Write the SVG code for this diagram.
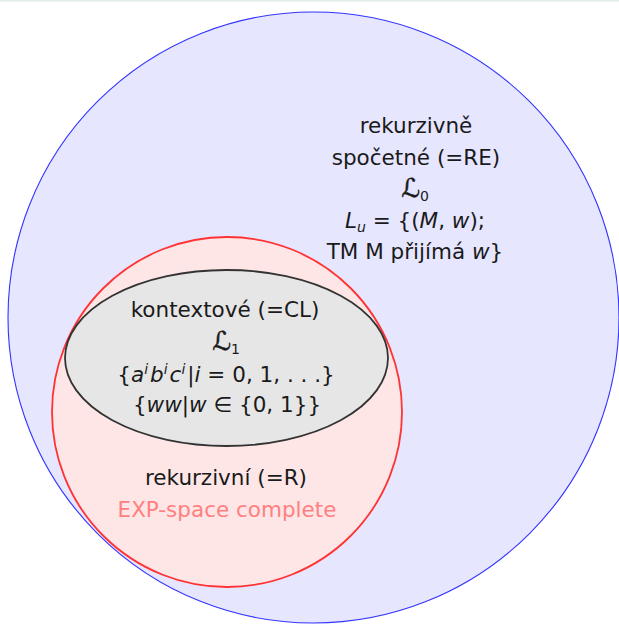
<svg xmlns="http://www.w3.org/2000/svg" width="619" height="626" viewBox="0 0 619 626">
<style>
.t{font-family:"DejaVu Sans","Liberation Sans",sans-serif;font-size:21.5px;fill:#1a1a1a;text-anchor:middle}
.m{font-style:italic}
.s{font-size:14px}
.cal{font-size:26px;stroke:#1a1a1a;stroke-width:0.5}
.exp{fill:#ff8080}
</style>
<rect x="0" y="0" width="619" height="626" fill="#ffffff"/>
<rect x="0" y="0" width="619" height="1.5" fill="#e2eaea"/>
<g id="re">
<circle cx="313.5" cy="317.5" r="305.5" fill="#e6e6ff" stroke="#3333ff" stroke-width="1.1"/>
<text class="t" x="416" y="133">rekurzivně</text>
<text class="t" x="416" y="165">spočetné (=RE)</text>
<text class="t" x="415" y="197"><tspan class="cal">ℒ</tspan><tspan class="s" dy="4">0</tspan></text>
<text class="t" x="415" y="228"><tspan class="m">L</tspan><tspan class="m s" dy="4">u</tspan><tspan dy="-4"> = {(</tspan><tspan class="m">M</tspan>, <tspan class="m">w</tspan>);</text>
<text class="t" x="415" y="259">TM M přijímá <tspan class="m">w</tspan>}</text>
</g>
<g id="r">
<circle cx="227" cy="412" r="175" fill="#ffe6e6" stroke="#ff3333" stroke-width="1.8"/>
<text class="t" x="226" y="485">rekurzivní (=R)</text>
<text class="t exp" x="227" y="517">EXP-space complete</text>
</g>
<g id="cl">
<ellipse cx="226.5" cy="358" rx="161.5" ry="88" fill="#e6e6e6" stroke="#333333" stroke-width="1.8"/>
<text class="t" x="225" y="317">kontextové (=CL)</text>
<text class="t" x="226" y="350"><tspan class="cal">ℒ</tspan><tspan class="s" dy="4">1</tspan></text>
<text class="t" x="226" y="382">{<tspan class="m">a</tspan><tspan class="m s" dy="-8">i</tspan><tspan class="m" dy="8" dx="2">b</tspan><tspan class="m s" dy="-8">i</tspan><tspan class="m" dy="8" dx="2">c</tspan><tspan class="m s" dy="-8">i</tspan><tspan dy="8" dx="2">|</tspan><tspan class="m">i</tspan> = 0, 1, . . .}</text>
<text class="t" x="227" y="412">{<tspan class="m">ww</tspan>|<tspan class="m">w</tspan> ∈ {0, 1}}</text>
</g>
<g id="connectors"/>
</svg>
